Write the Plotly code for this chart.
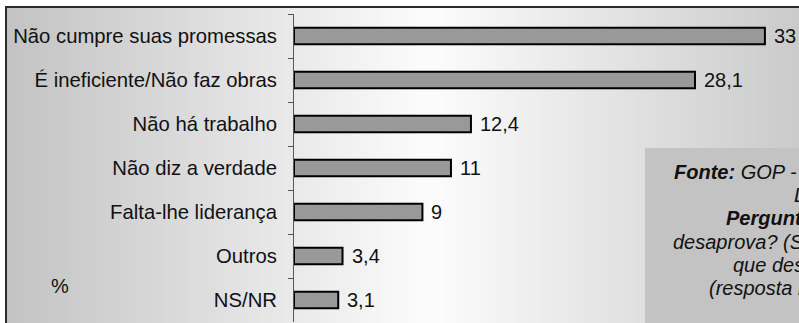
import plotly.graph_objects as go

categories = ["Não cumpre suas promessas", "É ineficiente/Não faz obras", "Não há trabalho",
              "Não diz a verdade", "Falta-lhe liderança", "Outros", "NS/NR"]
values = [33, 28.1, 12.4, 11, 9, 3.4, 3.1]
value_labels = ["33", "28,1", "12,4", "11", "9", "3,4", "3,1"]
unit_label = "%"
source_lines = [
    "<b>Fonte:</b> GOP - Universidade de",
    "Lima",
    "<b>Pergunta:</b> Por que o",
    "desaprova? (Se desaprova) Por",
    "que desaprova?",
    "(resposta múltipla)",
]
source_line_x = [672, 792, 724, 671, 731, 707]

W, H = 799, 323
PL, PR, PT, PB = 294, 799, 14, 322  # plot area in pixels


def px(x):
    return (x - PL) / (PR - PL)


def py(y):
    return (PB - y) / (PB - PT)


FONT = "Liberation Sans, Arial, sans-serif"

fig = go.Figure(go.Bar(
    x=values, y=categories, orientation="h",
    marker=dict(color="#999999", line=dict(color="#000000", width=2)),
    width=0.37,
    hoverinfo="skip",
))

shapes = []
# horizontal gradient background (gray -> white -> gray)
x = 7
step = 3
while x < 810:
    xc = x + step / 2
    t = max(0.0, 1 - abs(xc - 430) / 423)
    v = int(round(195 + (252 - 195) * t))
    col = f"rgb({v},{v},{v})"
    shapes.append(dict(type="rect", xref="paper", yref="paper",
                       x0=px(x), x1=px(x + step + 0.5), y0=py(340), y1=py(7),
                       fillcolor=col, line=dict(width=0), layer="below"))
    x += step
# source box
shapes.append(dict(type="rect", xref="paper", yref="paper",
                   x0=px(645), x1=px(900), y0=py(400), y1=py(148),
                   fillcolor="#c3c3c3", line=dict(width=0), layer="below"))
# frame lines (top and left)
shapes.append(dict(type="line", xref="paper", yref="paper",
                   x0=px(6), x1=px(900), y0=py(7), y1=py(7),
                   line=dict(color="#2a2a2a", width=2), layer="below"))
shapes.append(dict(type="line", xref="paper", yref="paper",
                   x0=px(6), x1=px(6), y0=py(6), y1=py(400),
                   line=dict(color="#2a2a2a", width=2), layer="below"))

annotations = [dict(text=unit_label, xref="paper", yref="paper", x=px(60), y=py(286),
                    xanchor="center", yanchor="middle", showarrow=False,
                    font=dict(family=FONT, size=20, color="#111111"))]
# value labels next to bars
for cat, v, lab in zip(categories, values, value_labels):
    annotations.append(dict(text=lab, xref="x", yref="y", x=v, y=cat,
                            xanchor="left", yanchor="middle", xshift=7, showarrow=False,
                            font=dict(family=FONT, size=20, color="#111111")))
line_y = [172, 195, 218, 241.5, 265, 288]
for txt, lx, ly in zip(source_lines, source_line_x, line_y):
    annotations.append(dict(text=f"<i>{txt}</i>", xref="paper", yref="paper",
                            x=px(lx), y=py(ly), xanchor="left", yanchor="middle",
                            showarrow=False, align="left",
                            font=dict(family=FONT, size=20, color="#111111")))

fig.update_layout(
    width=W, height=H,
    margin=dict(l=PL, r=W - PR, t=PT, b=H - PB, pad=0),
    paper_bgcolor="white", plot_bgcolor="rgba(0,0,0,0)",
    showlegend=False,
    xaxis=dict(range=[0, (PR - PL) / 14.27], visible=False, fixedrange=True),
    yaxis=dict(type="category", categoryorder="array", categoryarray=categories,
               autorange=False, range=[6.5, -0.5],
               showline=True, linecolor="#555555", linewidth=1,
               ticks="outside", tickson="boundaries", ticklen=5, tickcolor="#555555", tickwidth=1,
               ticklabelstandoff=12,
               tickfont=dict(family=FONT, size=20.3, color="#111111"),
               showgrid=False, zeroline=False, fixedrange=True),
    shapes=shapes, annotations=annotations,
)

fig.write_html("out.html", config={"displayModeBar": False},
               post_script="document.body.style.margin='0';document.body.style.overflow='hidden';")
